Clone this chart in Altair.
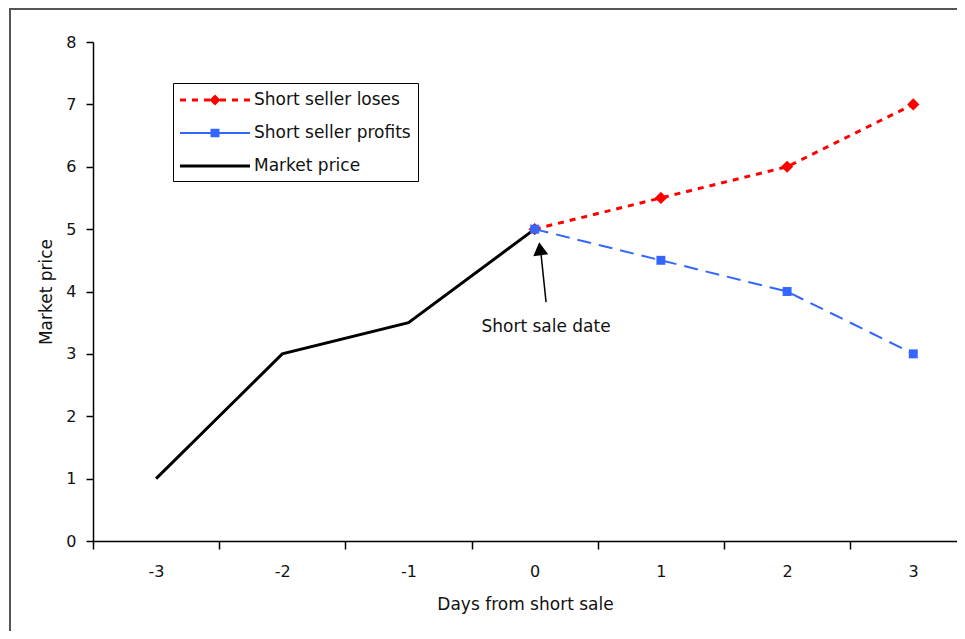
import altair as alt
import pandas as pd

# ---------------- data ----------------
series_names = ["Short seller loses", "Short seller profits", "Market price"]
series_colors = ["#ff0000", "#3366ff", "#000000"]

market_days = [-3, -2.5, -2, -1, 0]
market_prices = [1, 2, 3, 3.5, 5]

after_days = [0, 1, 2, 3]
loses_prices = [5, 5.5, 6, 7]
profits_prices = [5, 4.5, 4, 3]

x_tick_values = [-3.5, -2.5, -1.5, -0.5, 0.5, 1.5, 2.5]
y_tick_values = [0, 1, 2, 3, 4, 5, 6, 7, 8]

annotation_text = ["Short sale date"]
annotation_x = [0.09]
annotation_y = [3.43]
arrow_tail_x = [0.09]
arrow_tail_y = [3.83]
arrow_tip_x = [0.045]
arrow_tip_y = [4.70]
arrow_head_x = [0.042]
arrow_head_y = [4.683]

FONT = "DejaVu Sans"
FS = 16
FS_T = 17
W, H = 864, 499


def _rect(a, b, h):
    # a, b in legend pixels from symbol start; h = half thickness in px
    a, b, h = a / 10 - 1, b / 10 - 1, h / 10
    return f"M{a:.2f},{-h:.2f}H{b:.2f}V{h:.2f}H{a:.2f}Z"


P_LOSES = "".join(_rect(a, a + 6, 1.5) for a in [0, 12, 24, 40, 52, 64]) + "M2.5,-0.55L3.05,0L2.5,0.55L1.95,0Z"
P_PROFITS = _rect(0, 70, 1.0) + "M2.05,-0.42H2.95V0.42H2.05Z"
P_MARKET = _rect(0, 70, 1.5)

market_df = pd.DataFrame({"day": market_days, "price": market_prices})
loses_df = pd.DataFrame({"day": after_days, "price": loses_prices})
profits_df = pd.DataFrame({"day": after_days, "price": profits_prices})
ghost_df = pd.DataFrame({"day": [-10, -10, -10], "price": [-10, -10, -10], "series": series_names})

x_enc = alt.X(
    "day:Q",
    scale=alt.Scale(domain=[-3.5, -3.5 + W / 126.2], nice=False, zero=False),
    axis=alt.Axis(
        values=x_tick_values,
        labelExpr="'' + (datum.value + 0.5)",
        labelOffset=63,
        labelFlush=False,
        labelOverlap=False,
        labelBound=False,
        grid=False,
        tickSize=8,
        labelPadding=14,
        titlePadding=17,
        title="Days from short sale",
    ),
)
y_enc = alt.Y(
    "price:Q",
    scale=alt.Scale(domain=[0, 8], nice=False, zero=False),
    axis=alt.Axis(
        values=y_tick_values,
        labelExpr="'' + datum.value",
        grid=False,
        tickSize=7,
        labelPadding=10,
        labelFlush=False,
        titlePadding=10,
        title="Market price",
    ),
)

legend = alt.Legend(
    orient="none",
    legendX=80,
    legendY=41,
    title=None,
    strokeColor="#000000",
    fillColor="#ffffff",
    padding=7,
    symbolSize=400,
    symbolOpacity=1,
    symbolStrokeWidth=0,
    rowPadding=15,
    labelOffset=54,
    labelFont=FONT,
    labelFontSize=FS_T,
    labelColor="#111111",
    labelLimit=300,
)

color_leg = alt.Color("series:N", scale=alt.Scale(domain=series_names, range=series_colors), legend=legend)
shape_leg = alt.Shape(
    "series:N",
    scale=alt.Scale(domain=series_names, range=[P_LOSES, P_PROFITS, P_MARKET]),
    legend=legend,
)

frame = alt.Chart(alt.Data(values=[{}])).mark_rect(
    filled=False, stroke="#555555", strokeWidth=2
).encode(x=alt.value(-83), x2=alt.value(W + 40), y=alt.value(-33), y2=alt.value(H + 200))

market_line = alt.Chart(market_df).mark_line(strokeWidth=3, color=series_colors[2]).encode(x=x_enc, y=y_enc)
loses_line = alt.Chart(loses_df).mark_line(strokeWidth=3, strokeDash=[6, 6], color=series_colors[0]).encode(x=x_enc, y=y_enc)
loses_pts = alt.Chart(loses_df).mark_point(shape="diamond", filled=True, size=150, opacity=1, color=series_colors[0]).encode(x=x_enc, y=y_enc)
profits_line = alt.Chart(profits_df).mark_line(strokeWidth=2, strokeDash=[14, 8], color=series_colors[1]).encode(x=x_enc, y=y_enc)
profits_pts = alt.Chart(profits_df).mark_point(shape="square", filled=True, size=80, opacity=1, color=series_colors[1]).encode(x=x_enc, y=y_enc)
ghost = alt.Chart(ghost_df).mark_point(filled=True, clip=True, size=400).encode(
    x=x_enc, y=y_enc, color=color_leg, shape=shape_leg
)

arrow_df = pd.DataFrame({"x": arrow_tail_x, "y": arrow_tail_y, "x2": arrow_tip_x, "y2": arrow_tip_y})
arrow = alt.Chart(arrow_df).mark_rule(strokeWidth=1.5, color="#000000").encode(
    x="x:Q", y="y:Q", x2="x2:Q", y2="y2:Q"
)
head_df = pd.DataFrame({"x": arrow_head_x, "y": arrow_head_y})
head = alt.Chart(head_df).mark_point(
    shape="M0,-0.9L1,0.85L-1,0.85Z", filled=True, size=225, angle=353, color="#000000", opacity=1
).encode(x="x:Q", y="y:Q")
text_df = pd.DataFrame({"x": annotation_x, "y": annotation_y, "t": annotation_text})
label = alt.Chart(text_df).mark_text(font=FONT, fontSize=FS_T, color="#111111", align="center", baseline="middle").encode(
    x="x:Q", y="y:Q", text="t:N"
)

chart = alt.layer(
    frame, market_line, loses_line, loses_pts, profits_line, profits_pts, ghost, arrow, head, label
).properties(
    width=W,
    height=H,
    autosize=alt.AutoSizeParams(type="none"),
    padding={"left": 85, "top": 34, "right": 0, "bottom": 90},
).configure_view(stroke=None).configure_axis(
    domainColor="#000000",
    domainWidth=1.5,
    tickColor="#000000",
    tickWidth=1.5,
    labelFont=FONT,
    labelFontSize=FS,
    labelColor="#111111",
    titleFont=FONT,
    titleFontSize=FS_T,
    titleFontWeight="normal",
    titleColor="#111111",
)

chart.save("out.html", embed_options={"renderer": "svg", "actions": False})
